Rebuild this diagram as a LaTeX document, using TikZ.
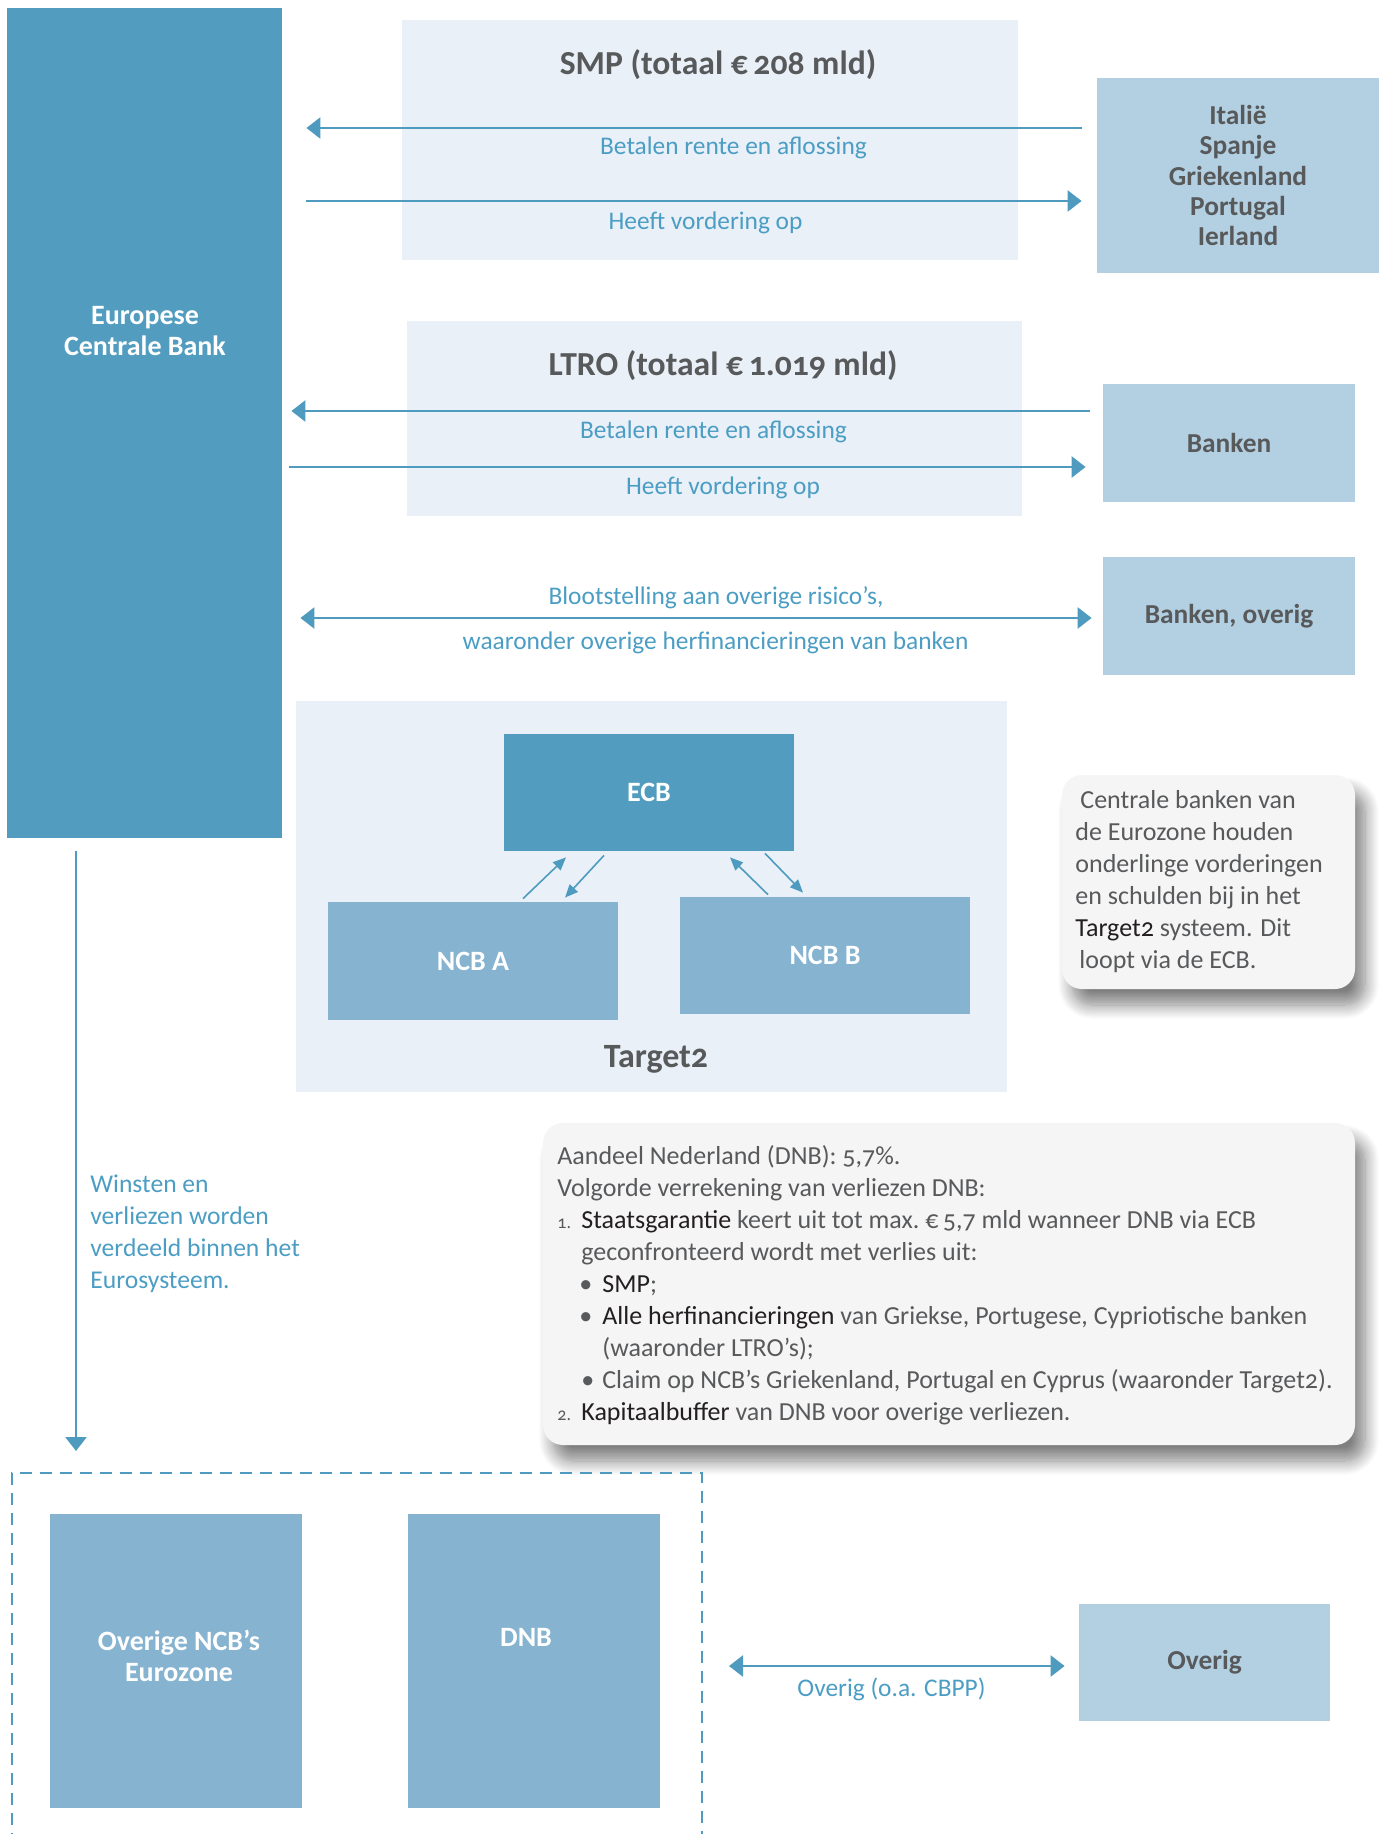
\documentclass[tikz,border=0pt]{standalone}
\usepackage{fontspec}
\setmainfont{Carlito}[Numbers=OldStyle]
\usetikzlibrary{arrows.meta,shadows.blur}

\definecolor{ecbblue}{HTML}{529DBF}
\definecolor{ncbblue}{HTML}{85B3D0}
\definecolor{landblue}{HTML}{B3D0E2}
\definecolor{paleblue}{HTML}{E9F0F7}
\definecolor{notegrey}{HTML}{F5F5F5}
\definecolor{txtgrey}{HTML}{58595B}
\definecolor{txtdark}{HTML}{231F20}
\definecolor{lblblue}{HTML}{4B9DC4}
\definecolor{arrowblue}{HTML}{4F9BBF}

\begin{document}
\begin{tikzpicture}[x=0.5pt,y=-0.5pt,
    panel/.style={fill=paleblue,inner sep=0pt},
    darkbox/.style={fill=ecbblue,text=white,inner sep=0pt,align=center,font=\bfseries\fontsize{14}{15.5}\selectfont},
    midbox/.style={fill=ncbblue,text=white,inner sep=0pt,align=center,font=\bfseries\fontsize{14}{15.5}\selectfont},
    landbox/.style={fill=landblue,text=txtgrey,inner sep=0pt,align=center,font=\bfseries\fontsize{13.7}{15.2}\selectfont},
    title/.style={text=txtgrey,font=\bfseries\fontsize{16.8}{19}\selectfont},
    flowlabel/.style={text=lblblue,font=\fontsize{12.7}{16}\selectfont},
    notebox/.style={fill=notegrey,rounded corners=10pt,inner sep=0pt,
        blur shadow={shadow xshift=5pt,shadow yshift=-8pt,shadow blur radius=7pt,shadow blur steps=12,shadow opacity=50}},
    notetext/.style={text=txtgrey,align=left,inner sep=0pt,anchor=north west,font=\fontsize{13}{16}\selectfont},
    flow/.style={draw=arrowblue,line width=1.25pt,-{Triangle[length=7pt,width=10.5pt]}},
    flowboth/.style={flow,{Triangle[length=7pt,width=10.5pt]}-{Triangle[length=7pt,width=10.5pt]}},
    tflow/.style={draw=arrowblue,line width=0.8pt,-{Triangle[length=6.5pt,width=5.5pt]}}]
    \useasboundingbox (0,0) rectangle (1384,1834);

    % achtergrondvlakken
    \node[panel,minimum width=308pt,minimum height=120pt] (smp) at (710,140) {};
    \node[panel,minimum width=307.5pt,minimum height=97.5pt] (ltro) at (714.5,418.5) {};
    \node[panel,minimum width=355.5pt,minimum height=195.5pt] (target) at (651.5,896.5) {};

    % ECB en tegenpartijen
    \node[darkbox,minimum width=137.5pt,minimum height=415pt] (ecb) at (144.5,423) {};
    \node[darkbox] (ecbtext) at (145,331) {Europese\\Centrale Bank};
    \node[landbox,minimum width=141pt,minimum height=97.5pt] (italie) at (1238,175.5)
        {Italië\\Spanje\\Griekenland\\Portugal\\Ierland};
    \node[landbox,minimum width=126pt,minimum height=59pt] (banken) at (1229,443) {Banken};
    \node[landbox,minimum width=126pt,minimum height=59pt] (bankov) at (1229,616) {Banken, overig};

    \node[title] (smptitle) at (718,65) {SMP (totaal €\,208 mld)};
    \node[title] (ltrotitle) at (723,366) {LTRO (totaal €\,1.019 mld)};

    % SMP
    \draw[flow,shorten <=7.5pt,shorten >=12pt] (italie.west |- 0,128) -- (ecb.east |- 0,128);
    \draw[flow,shorten <=12pt,shorten >=7.5pt] (ecb.east |- 0,201) -- (italie.west |- 0,201);
    \node[flowlabel] (smpbet) at (733.5,148) {Betalen rente en aflossing};
    \node[flowlabel] (smpheeft) at (705.5,223) {Heeft vordering op};

    % LTRO
    \draw[flow,shorten <=6.5pt,shorten >=4.5pt] (banken.west |- 0,411) -- (ecb.east |- 0,411);
    \draw[flow,shorten <=3.5pt,shorten >=8.5pt] (ecb.east |- 0,467) -- (banken.west |- 0,467);
    \node[flowlabel] (ltrobet) at (713.5,431.5) {Betalen rente en aflossing};
    \node[flowlabel] (ltroheeft) at (723,487.5) {Heeft vordering op};

    % overige risico's
    \draw[flowboth,shorten <=9pt,shorten >=5.5pt] (ecb.east |- 0,618) -- (bankov.west |- 0,618);
    \node[flowlabel] (bloot) at (716,597.5) {Blootstelling aan overige risico’s,};
    \node[flowlabel] (waaronder) at (715.5,643) {waaronder overige herfinancieringen van banken};

    % Target2
    \node[darkbox,minimum width=145pt,minimum height=58.5pt] (ecbs) at (649,792.5) {ECB};
    \node[midbox,minimum width=145pt,minimum height=59pt] (ncba) at (473,961) {NCB A};
    \node[midbox,minimum width=145pt,minimum height=58.5pt] (ncbb) at (825,955.5) {NCB B};
    \node[title,font=\bfseries\fontsize{17}{19}\selectfont] (targetlbl) at (656,1059) {Target2};
    \draw[tflow] ([xshift=25pt,yshift=1.5pt]ncba.north) -- ([xshift=-41.5pt,yshift=-3pt]ecbs.south);
    \draw[tflow] ([xshift=-22.5pt,yshift=-2pt]ecbs.south) -- ([xshift=46pt,yshift=2pt]ncba.north);
    \draw[tflow] ([xshift=-28.5pt,yshift=1pt]ncbb.north) -- ([xshift=40.5pt,yshift=-3pt]ecbs.south);
    \draw[tflow] ([xshift=58pt,yshift=-1pt]ecbs.south) -- ([xshift=-11pt,yshift=2pt]ncbb.north);

    % toelichtingen
    \node[notebox,minimum width=146.5pt,minimum height=107pt] (note1) at (1208.5,882) {};
    \node[notetext] (note1text) at (1075,790) {\hspace{2.5pt}Centrale banken van\\de Eurozone houden\\onderlinge vorderingen\\en schulden bij in het\\\textcolor{txtdark}{Target2} systeem. Dit\\\hspace{2pt}loopt via de ECB.};
    \node[notebox,minimum width=406pt,minimum height=161pt] (note2) at (949,1284) {};
    \node[notetext] (note2text) at (557,1145) {Aandeel Nederland (DNB): 5,7\%.\\
        Volgorde verrekening van verliezen DNB:\\
        \makebox[12pt][l]{\small 1.}\textcolor{txtdark}{Staatsgarantie} keert uit tot max.\ €\,5,7 mld wanneer DNB via ECB\\
        \hspace{12pt}geconfronteerd wordt met verlies uit:\\
        \hspace{11pt}\makebox[11.5pt][l]{•}\textcolor{txtdark}{SMP};\\
        \hspace{11pt}\makebox[11.5pt][l]{•}\textcolor{txtdark}{Alle herfinancieringen} van Griekse, Portugese, Cypriotische banken\\
        \hspace{22.5pt}(waaronder LTRO’s);\\
        \hspace{12pt}\makebox[10.5pt][l]{•}Claim op NCB’s Griekenland, Portugal en Cyprus (waaronder Target2).\\
        \makebox[12pt][l]{\small 2.}\textcolor{txtdark}{Kapitaalbuffer} van DNB voor overige verliezen.};

    % verdeling binnen het Eurosysteem
    \node[dashed,draw=arrowblue,line width=1pt,dash pattern=on 6pt off 4pt,inner sep=0pt,
        minimum width=345pt,minimum height=220pt] (zone) at (357,1693) {};
    \draw[flow,shorten <=6.5pt,shorten >=10.5pt] (ecb.south -| 76,0) -- (zone.north -| 76,0);
    \node[notetext,text=lblblue,font=\fontsize{12.8}{16}\selectfont] (winsten) at (90,1174)
        {Winsten en\\verliezen worden\\verdeeld binnen het\\Eurosysteem.};
    \node[midbox,minimum width=126pt,minimum height=147pt] (overncb) at (176,1661) {};
    \node[midbox] (overncbtext) at (179,1656) {Overige NCB’s\\Eurozone};
    \node[midbox,minimum width=126pt,minimum height=147pt] (dnb) at (534,1661) {};
    \node[midbox] (dnbtext) at (526,1637) {DNB};
    \node[landbox,minimum width=125.5pt,minimum height=58.5pt] (overig) at (1204.5,1662.5) {Overig};
    \draw[flowboth,shorten <=13pt,shorten >=7pt] (zone.east |- 0,1666) -- (overig.west |- 0,1666);
    \node[flowlabel] (overiglbl) at (891.5,1689) {Overig (o.a. CBPP)};
\end{tikzpicture}
\end{document}
